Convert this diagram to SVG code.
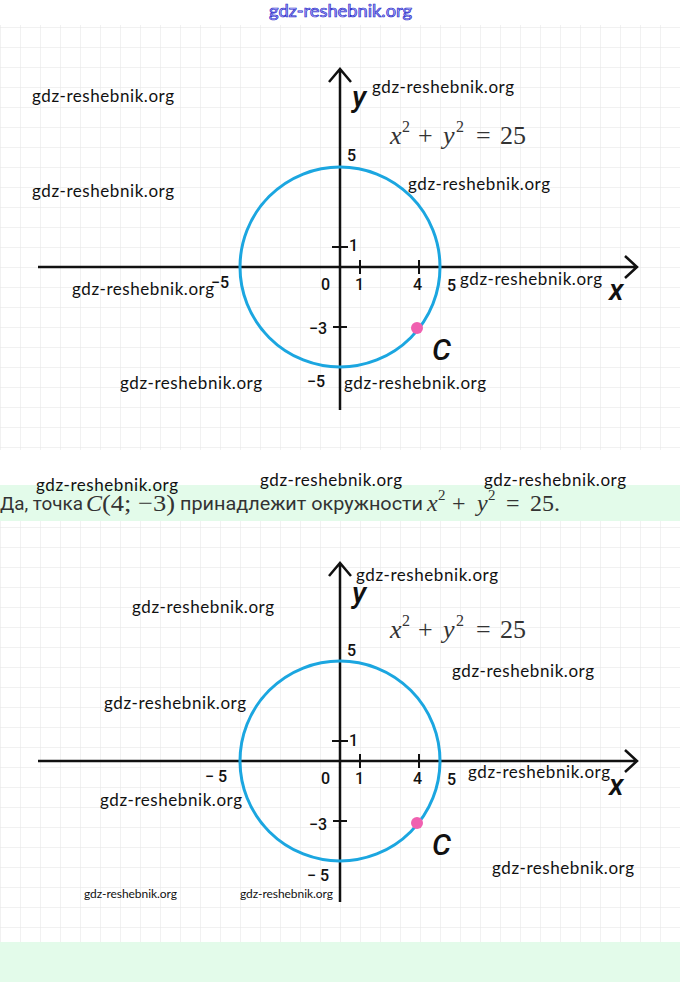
<svg xmlns="http://www.w3.org/2000/svg" width="680" height="982" viewBox="0 0 680 982">
<defs>
<style>
.grid{stroke:#e4e4e4;stroke-width:1}
.ax{stroke:#111;stroke-width:2.5;fill:none}
.tk{stroke:#111;stroke-width:2}
.circ{stroke:#1ba6e0;stroke-width:3;fill:none}
.lb{font-family:Roboto,"Liberation Sans",sans-serif;font-size:16px;font-weight:500;fill:#111}
.av{font-family:Roboto,"Liberation Sans",sans-serif;font-size:30px;font-style:italic;font-weight:500;fill:#111}
.wm{font-family:Lato,"Liberation Sans",sans-serif;font-size:17px;fill:#111}
.wms{font-family:Lato,"Liberation Sans",sans-serif;font-size:12px;fill:#111}
.fm{font-family:"Liberation Serif",serif;font-size:26px;fill:#333}
.fi{font-style:italic}
.sup{font-size:16px}
.tx{font-family:Roboto,"Liberation Sans",sans-serif;font-size:18px;fill:#333}
.tf{font-family:"Liberation Serif",serif;font-size:24px;fill:#333}
.ts{font-family:"Liberation Serif",serif;font-size:15px;fill:#333}
</style>
<pattern id="g" x="0" y="7" width="20" height="20" patternUnits="userSpaceOnUse">
<path d="M0 0V20M0 0H20" class="grid" fill="none"/>
</pattern>
</defs>
<rect width="680" height="982" fill="#fff"/>
<rect x="0" y="25" width="680" height="425" fill="url(#g)"/>
<rect x="0" y="521" width="680" height="421" fill="url(#g)"/>
<rect x="0" y="485" width="680" height="36" fill="#e3fbea"/>
<rect x="0" y="942" width="680" height="40" fill="#e3fbea"/>
<text x="269" y="17" textLength="143" lengthAdjust="spacingAndGlyphs" font-family="Lato,'Liberation Sans',sans-serif" font-size="17" fill="#b8b8ff" stroke="#2a2ac8" stroke-width="0.7">gdz-reshebnik.org</text>

<g id="graph1">
<g id="connectors1">
<path class="ax" d="M38 267H636M625 256L637 267L625 278"/>
<path class="ax" d="M340 410V70M329 82L340 69L351 82"/>
<path class="tk" d="M332 247H348M360 260V274M419 260V274M333 327H347"/>
</g>
<circle class="circ" cx="340" cy="267" r="100"/>
<circle cx="417" cy="328" r="6" fill="#f060b0"/>
<text class="av" x="352" y="107">y</text>
<text class="av" x="609" y="300" font-size="26">x</text>
<text class="av" x="432" y="360">C</text>
<text class="lb" x="347" y="161">5</text>
<text class="lb" x="349" y="251">1</text>
<text class="lb" x="321" y="290">0</text>
<text class="lb" x="355" y="290">1</text>
<text class="lb" x="413" y="290">4</text>
<text class="lb" x="447" y="291">5</text>
<text class="lb" x="211" y="288">−5</text>
<text class="lb" x="309" y="334">−3</text>
<text class="lb" x="307" y="387">−5</text>
<text class="fm" y="144"><tspan class="fi" x="390">x</tspan><tspan class="sup" x="402" y="132">2</tspan><tspan x="418" y="144">+</tspan><tspan class="fi" x="443">y</tspan><tspan class="sup" x="456" y="132">2</tspan><tspan x="476" y="144">=</tspan><tspan x="500">25</tspan></text>
</g>

<g id="sentence">
<text class="tx" x="0" y="510" textLength="83" lengthAdjust="spacingAndGlyphs">Да, точка</text>
<text class="tf" y="511"><tspan class="fi" x="86">C</tspan><tspan x="102" textLength="73" lengthAdjust="spacingAndGlyphs">(4; −3)</tspan></text>
<text class="tx" x="180" y="510" textLength="243" lengthAdjust="spacingAndGlyphs">принадлежит окружности</text>
<text class="tf" y="511"><tspan class="fi" x="427">x</tspan><tspan class="ts" x="438" y="500">2</tspan><tspan x="452" y="511">+</tspan><tspan class="fi" x="477">y</tspan><tspan class="ts" x="488" y="500">2</tspan><tspan x="506" y="511">=</tspan><tspan x="530">25.</tspan></text>
</g>

<g id="graph2">
<g id="connectors2">
<path class="ax" d="M38 761H636M625 750L637 761L625 772"/>
<path class="ax" d="M340 902V564M329 576L340 563L351 576"/>
<path class="tk" d="M332 741H348M360 754V768M419 754V768M333 821H347"/>
</g>
<circle class="circ" cx="340" cy="761" r="100"/>
<circle cx="417" cy="823" r="6" fill="#f060b0"/>
<text class="av" x="352" y="603">y</text>
<text class="av" x="609" y="795" font-size="26">x</text>
<text class="av" x="432" y="855">C</text>
<text class="lb" x="347" y="656">5</text>
<text class="lb" x="349" y="746">1</text>
<text class="lb" x="321" y="784">0</text>
<text class="lb" x="355" y="784">1</text>
<text class="lb" x="413" y="784">4</text>
<text class="lb" x="447" y="785">5</text>
<text class="lb" x="205" y="782">− 5</text>
<text class="lb" x="309" y="830">−3</text>
<text class="lb" x="307" y="881">− 5</text>
<text class="fm" y="638"><tspan class="fi" x="390">x</tspan><tspan class="sup" x="402" y="626">2</tspan><tspan x="418" y="638">+</tspan><tspan class="fi" x="443">y</tspan><tspan class="sup" x="456" y="626">2</tspan><tspan x="476" y="638">=</tspan><tspan x="500">25</tspan></text>
</g>

<g id="watermarks">
<text class="wm" x="32" y="102" textLength="142">gdz-reshebnik.org</text>
<text class="wm" x="372" y="93" textLength="142">gdz-reshebnik.org</text>
<text class="wm" x="32" y="197" textLength="142">gdz-reshebnik.org</text>
<text class="wm" x="408" y="190" textLength="142">gdz-reshebnik.org</text>
<text class="wm" x="72" y="295" textLength="142">gdz-reshebnik.org</text>
<text class="wm" x="460" y="285" textLength="142">gdz-reshebnik.org</text>
<text class="wm" x="120" y="389" textLength="142">gdz-reshebnik.org</text>
<text class="wm" x="344" y="389" textLength="142">gdz-reshebnik.org</text>
<text class="wm" x="36" y="491" textLength="142">gdz-reshebnik.org</text>
<text class="wm" x="260" y="486" textLength="142">gdz-reshebnik.org</text>
<text class="wm" x="484" y="486" textLength="142">gdz-reshebnik.org</text>
<text class="wm" x="356" y="581" textLength="142">gdz-reshebnik.org</text>
<text class="wm" x="132" y="613" textLength="142">gdz-reshebnik.org</text>
<text class="wm" x="452" y="677" textLength="142">gdz-reshebnik.org</text>
<text class="wm" x="104" y="709" textLength="142">gdz-reshebnik.org</text>
<text class="wm" x="468" y="778" textLength="142">gdz-reshebnik.org</text>
<text class="wm" x="100" y="806" textLength="142">gdz-reshebnik.org</text>
<text class="wm" x="492" y="874" textLength="142">gdz-reshebnik.org</text>
<text class="wms" x="84" y="898" textLength="93">gdz-reshebnik.org</text>
<text class="wms" x="240" y="898" textLength="93">gdz-reshebnik.org</text>
</g>
</svg>
